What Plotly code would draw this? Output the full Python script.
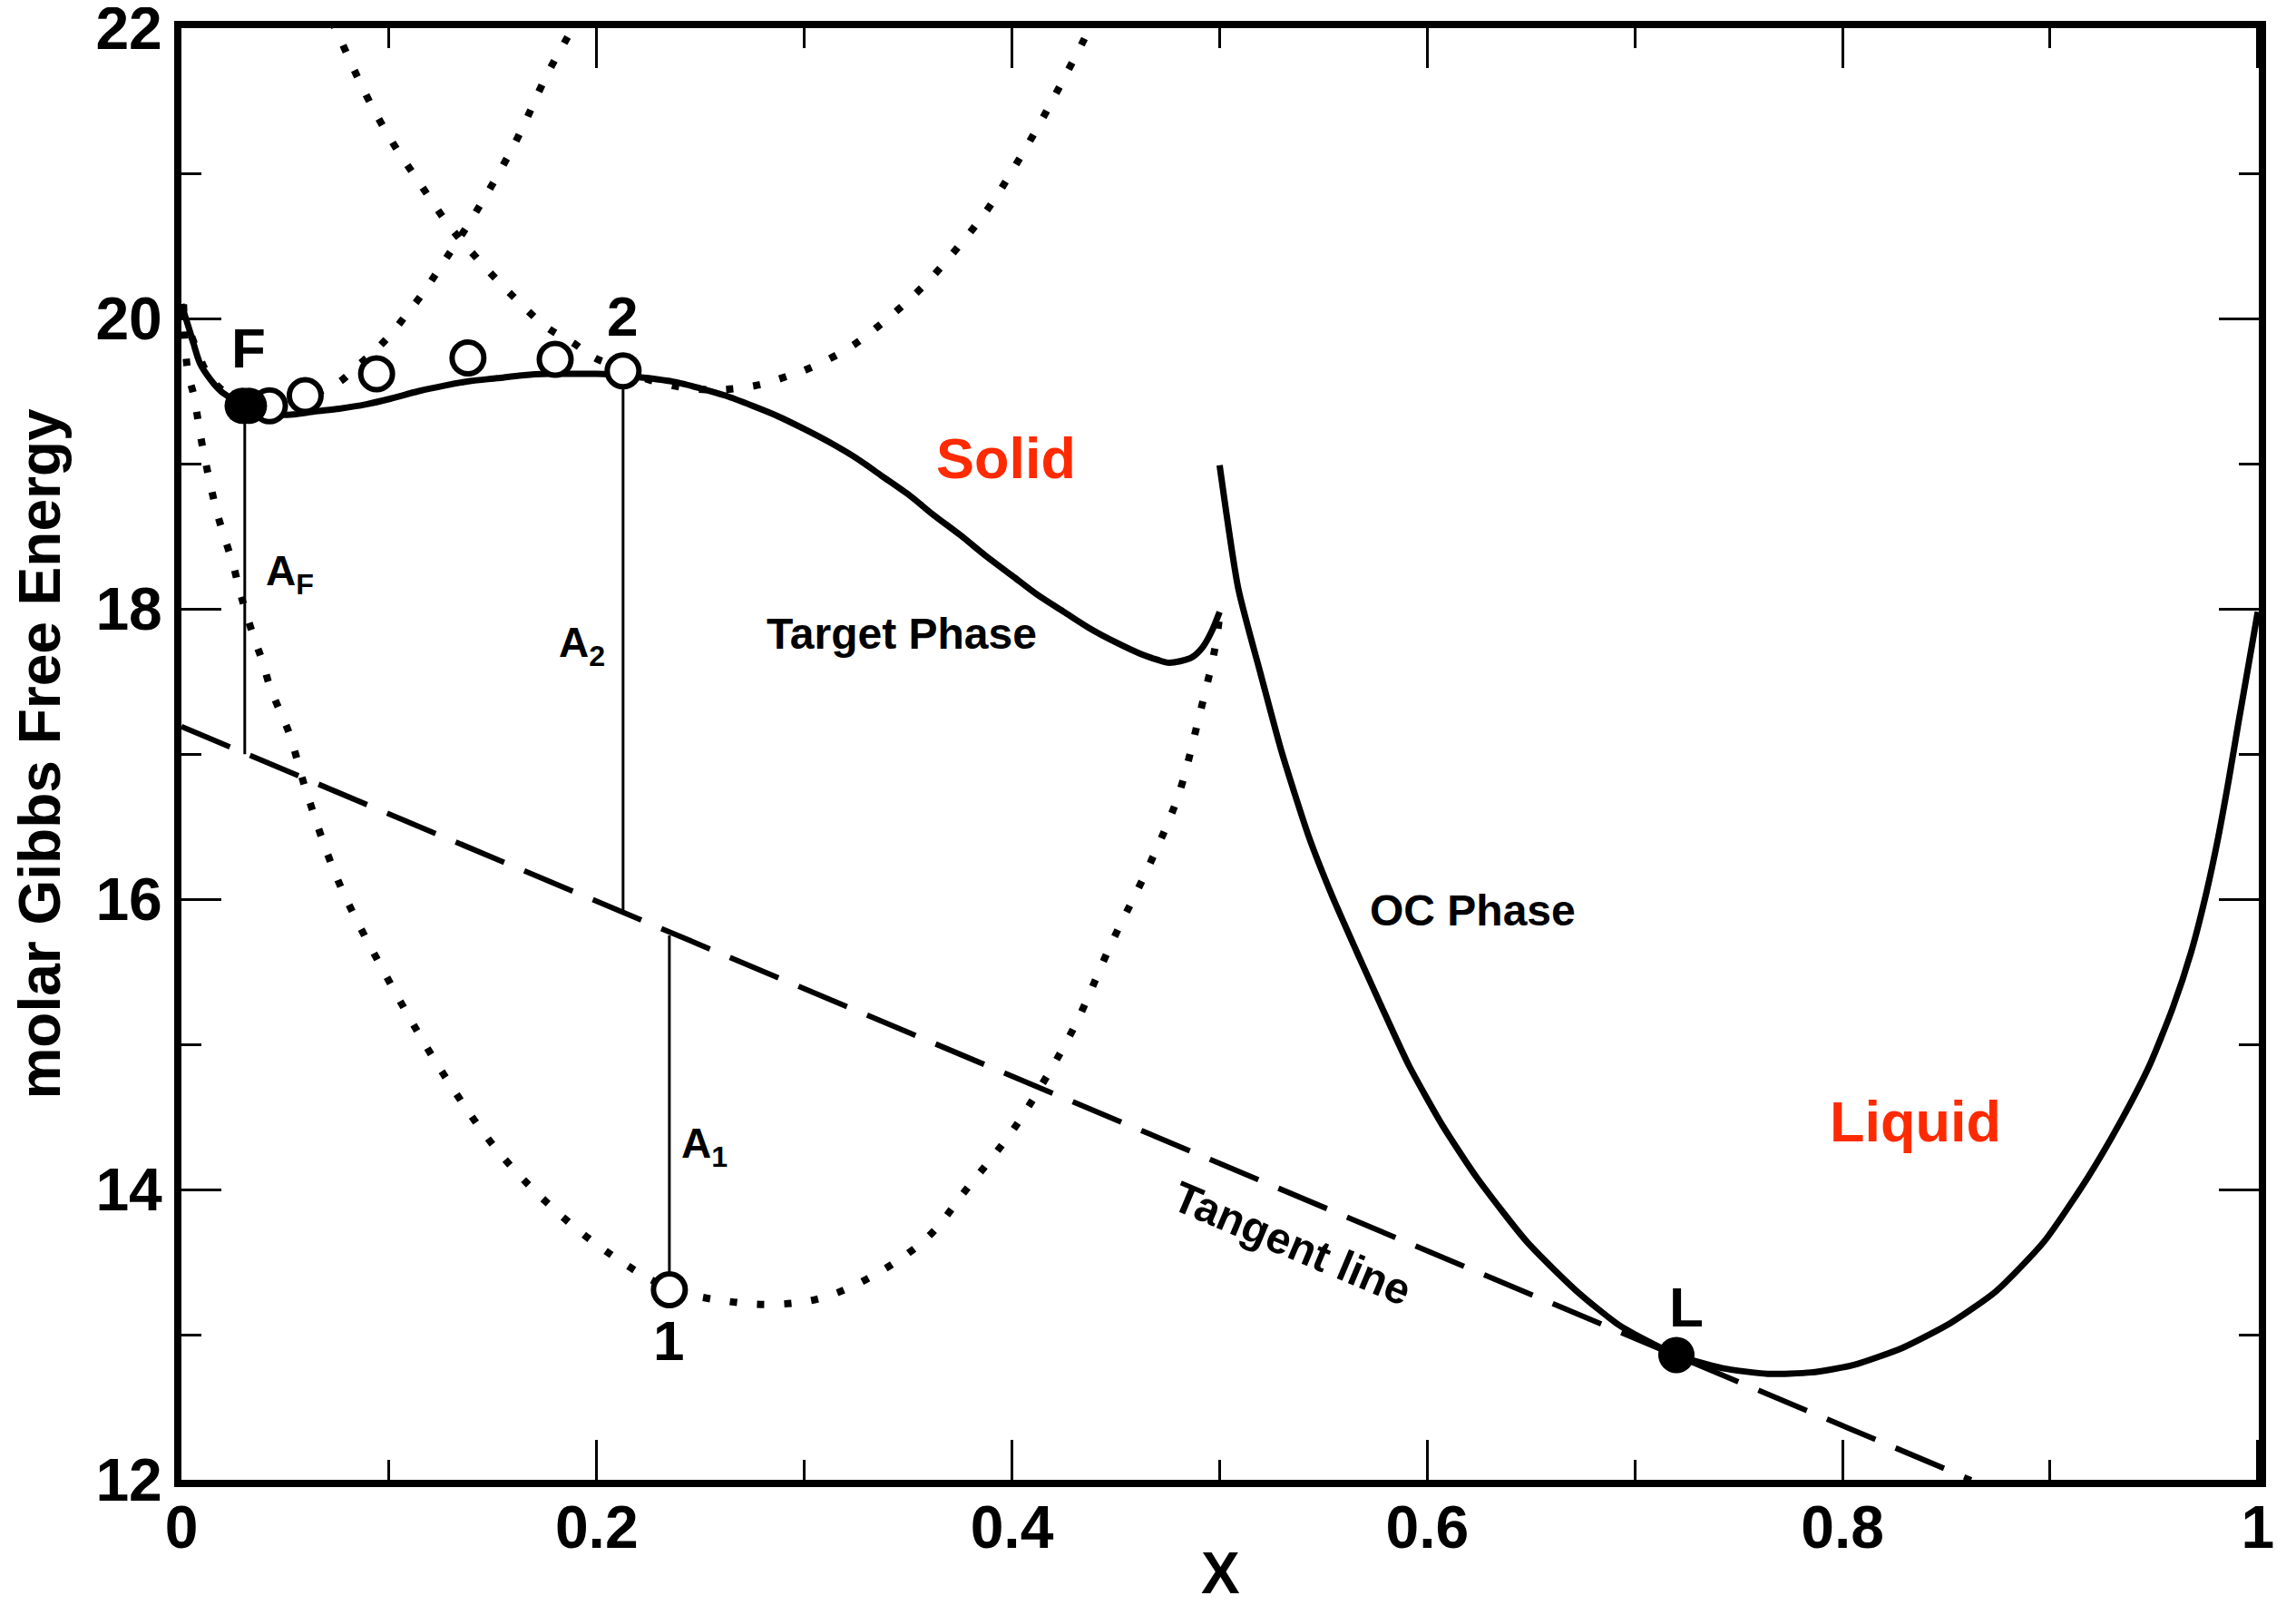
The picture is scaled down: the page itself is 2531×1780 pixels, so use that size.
import math
import plotly.graph_objects as go

# ---------------- data ----------------
# Target phase (solid, Solid side)
target_x = [0.0, 0.005, 0.009, 0.014, 0.019, 0.024, 0.029, 0.036, 0.044, 0.054, 0.064, 0.076,
            0.089, 0.101, 0.114, 0.127, 0.139, 0.152, 0.164, 0.177, 0.189, 0.2, 0.2125, 0.225,
            0.239, 0.25, 0.262, 0.275, 0.287, 0.3, 0.312, 0.325, 0.337, 0.35, 0.362, 0.375,
            0.387, 0.4, 0.412, 0.425, 0.437, 0.45, 0.462, 0.47, 0.475, 0.481, 0.487, 0.492,
            0.496, 0.5]
target_y = [20.10, 19.87, 19.69, 19.58, 19.50, 19.45, 19.41, 19.37, 19.34, 19.34, 19.36, 19.38,
            19.41, 19.45, 19.50, 19.54, 19.57, 19.59, 19.61, 19.62, 19.62, 19.62, 19.61, 19.59,
            19.56, 19.52, 19.47, 19.40, 19.33, 19.24, 19.15, 19.04, 18.92, 18.79, 18.65, 18.51,
            18.37, 18.23, 18.10, 17.98, 17.87, 17.77, 17.69, 17.65, 17.63, 17.64, 17.67, 17.74,
            17.84, 17.98]

# OC phase (solid, Liquid side)
oc_x = [0.5, 0.509, 0.52, 0.53, 0.543, 0.554, 0.566, 0.578, 0.591, 0.607, 0.624, 0.648,
        0.672, 0.693, 0.72, 0.742, 0.764, 0.785, 0.805, 0.829, 0.852, 0.874, 0.897, 0.918,
        0.934, 0.948, 0.959, 0.968, 0.975, 0.981, 0.986, 0.9905, 1.0]
oc_y = [18.99, 18.14, 17.54, 17.01, 16.43, 16.03, 15.64, 15.26, 14.86, 14.45, 14.08, 13.64,
        13.30, 13.06, 12.86, 12.77, 12.73, 12.74, 12.79, 12.91, 13.08, 13.30, 13.64, 14.08,
        14.47, 14.86, 15.25, 15.64, 16.03, 16.43, 16.82, 17.20, 17.98]

# dotted curve through point 1
dot1_x = [0.001, 0.003, 0.006, 0.008, 0.010, 0.0124, 0.015, 0.0178, 0.0215, 0.025, 0.028,
          0.031, 0.035, 0.039, 0.0425, 0.047, 0.052, 0.060, 0.076, 0.101, 0.126, 0.151,
          0.176, 0.204, 0.235, 0.263, 0.288, 0.31, 0.336, 0.36, 0.378, 0.4, 0.413, 0.43,
          0.448, 0.465, 0.48, 0.49, 0.4975, 0.5]
dot1_y = [20.10, 19.64, 19.47, 19.30, 19.13, 18.96, 18.79, 18.63, 18.46, 18.30, 18.13,
          17.98, 17.80, 17.64, 17.47, 17.31, 17.14, 16.75, 16.11, 15.41, 14.80, 14.29,
          13.91, 13.58, 13.32, 13.23, 13.21, 13.26, 13.43, 13.68, 14.00, 14.40, 14.69, 15.12,
          15.70, 16.20, 16.71, 17.25, 17.71, 17.95]

# dotted curve rising from F towards the top
dot2_x = [0.0, 0.0036, 0.008, 0.0131, 0.0211, 0.03, 0.04, 0.05, 0.06, 0.0757, 0.0844,
          0.0932, 0.1012, 0.109, 0.1165, 0.124, 0.1425, 0.161, 0.176, 0.1875, 0.19]
dot2_y = [20.05, 19.93, 19.76, 19.61, 19.49, 19.41, 19.39, 19.41, 19.46, 19.56, 19.67,
          19.78, 19.90, 20.04, 20.18, 20.34, 20.75, 21.22, 21.68, 21.98, 22.05]

# dotted curve descending to point 2 and rising again
dot3_x = [0.072, 0.074, 0.089, 0.101, 0.114, 0.129, 0.144, 0.16, 0.176, 0.189, 0.199, 0.212,
          0.225, 0.24, 0.256, 0.268, 0.28, 0.291, 0.301, 0.3217, 0.340, 0.3577, 0.3738,
          0.3886, 0.401, 0.4136, 0.4248, 0.436, 0.438]
dot3_y = [22.05, 22.0, 21.54, 21.23, 20.95, 20.64, 20.39, 20.15, 19.94, 19.83, 19.73, 19.66,
          19.58, 19.53, 19.51, 19.52, 19.55, 19.60, 19.65, 19.80, 20.0, 20.23, 20.49,
          20.76, 21.04, 21.35, 21.65, 21.96, 22.02]

# tangent line
tangent_x = [0.0, 0.862]
tangent_y = [17.19, 12.0]

# open circles (iteration points)
open_x = [0.0424, 0.0596, 0.094, 0.138, 0.180, 0.2127, 0.235]
open_y = [19.40, 19.47, 19.62, 19.73, 19.72, 19.64, 13.31]

# filled points F and L
filled_x = [0.0295, 0.0325, 0.720]
filled_y = [19.40, 19.40, 12.86]

# vertical driving-force segments
af_x = [0.0305, 0.0305]
af_y = [19.40, 17.00]
a2_x = [0.2127, 0.2127]
a2_y = [19.64, 15.92]
a1_x = [0.235, 0.235]
a1_y = [13.31, 15.75]

# text labels
label_text = ["F", "2", "1", "L", "A<sub>F</sub>", "A<sub>2</sub>", "A<sub>1</sub>",
              "Target Phase", "OC Phase"]
label_x = [0.0325, 0.2125, 0.2345, 0.725, 0.052, 0.193, 0.252, 0.347, 0.622]
label_y = [19.80, 20.02, 12.96, 13.19, 18.24, 17.75, 14.30, 17.83, 15.92]
label_size = [62, 62, 62, 62, 46, 46, 46, 48, 48]

red_text = ["Solid", "Liquid"]
red_x = [0.397, 0.835]
red_y = [19.04, 14.47]

tangent_label = "Tangent line"
tangent_label_x = 0.535
tangent_label_y = 13.63

x_title = "X"
y_title = "molar Gibbs Free Energy"

x_ticks = [0, 0.2, 0.4, 0.6, 0.8, 1.0]
x_ticktext = ["0", "0.2", "0.4", "0.6", "0.8", "1"]
y_ticks = [12, 14, 16, 18, 20, 22]
y_ticktext = ["12", "14", "16", "18", "20", "22"]

# ---------------- figure ----------------
# the page body adds an 8px margin, so the figure is 16px smaller than the window
W, H = 2515, 1764
ML, MR, MT, MB = 192, 33, 23, 141
FONT = "Liberation Sans, Arial, Helvetica, sans-serif"

fig = go.Figure()

dotted = dict(color="black", width=8, dash="8px,22px")
fig.add_trace(go.Scatter(x=dot1_x, y=dot1_y, mode="lines", line=dotted, line_shape="spline"))
fig.add_trace(go.Scatter(x=dot2_x, y=dot2_y, mode="lines", line=dotted, line_shape="spline"))
fig.add_trace(go.Scatter(x=dot3_x, y=dot3_y, mode="lines", line=dotted, line_shape="spline"))

fig.add_trace(go.Scatter(x=tangent_x, y=tangent_y, mode="lines",
                         line=dict(color="black", width=6, dash="58px,24px")))

thin = dict(color="black", width=3)
for xs, ys in [(af_x, af_y), (a2_x, a2_y), (a1_x, a1_y)]:
    fig.add_trace(go.Scatter(x=xs, y=ys, mode="lines", line=thin))

fig.add_trace(go.Scatter(x=target_x, y=target_y, mode="lines",
                         line=dict(color="black", width=7, shape="spline", smoothing=0.8)))
fig.add_trace(go.Scatter(x=oc_x, y=oc_y, mode="lines",
                         line=dict(color="black", width=7, shape="spline", smoothing=0.6)))

fig.add_trace(go.Scatter(x=open_x, y=open_y, mode="markers",
                         marker=dict(symbol="circle", size=35, color="white",
                                     line=dict(color="black", width=6))))
fig.add_trace(go.Scatter(x=filled_x, y=filled_y, mode="markers",
                         marker=dict(symbol="circle", size=40, color="black",
                                     line=dict(color="black", width=0))))

for t, x, y, s in zip(label_text, label_x, label_y, label_size):
    fig.add_annotation(x=x, y=y, text=t, showarrow=False,
                       font=dict(family=FONT, size=s, color="black", weight="bold"))
for t, x, y in zip(red_text, red_x, red_y):
    fig.add_annotation(x=x, y=y, text=t, showarrow=False,
                       font=dict(family=FONT, size=63, color="#ff2a00", weight="bold"))

plot_w = W - ML - MR
plot_h = H - MT - MB
slope_px = (tangent_y[0] - tangent_y[1]) / (tangent_x[1] - tangent_x[0]) * (plot_h / 10.0) / plot_w
angle = math.degrees(math.atan(slope_px))
fig.add_annotation(x=tangent_label_x, y=tangent_label_y, text=tangent_label, showarrow=False,
                   textangle=angle,
                   font=dict(family=FONT, size=48, color="black", weight="bold"))

# x-axis title, placed just under the tick labels
fig.add_annotation(x=0.5, y=-(1726 - (H - MB)) / plot_h, xref="paper", yref="paper",
                   text=x_title, showarrow=False, yanchor="middle",
                   font=dict(family=FONT, size=64, color="black", weight="bold"))

axis_common = dict(
    showgrid=False, zeroline=False, showline=True, linecolor="black", linewidth=8,
    mirror="allticks", ticks="inside", ticklen=44, tickwidth=3, tickcolor="black",
    ticklabeloverflow="allow", automargin=False,
    tickfont=dict(family=FONT, size=66, color="black", weight="bold"),
)

fig.update_xaxes(range=[0, 1.0005], tickvals=x_ticks, ticktext=x_ticktext,
                 ticklabelstandoff=-12,
                 minor=dict(dtick=0.1, ticks="inside", ticklen=22, tickwidth=3, tickcolor="black"),
                 **axis_common)
fig.update_yaxes(range=[12, 22.002], tickvals=y_ticks, ticktext=y_ticktext,
                 minor=dict(dtick=1, ticks="inside", ticklen=22, tickwidth=3, tickcolor="black"),
                 title=dict(text=y_title, standoff=24,
                            font=dict(family=FONT, size=64, color="black", weight="bold")),
                 **axis_common)

fig.update_layout(width=W, height=H, margin=dict(l=ML, r=MR, t=MT, b=MB, pad=0, autoexpand=False),
                  showlegend=False, plot_bgcolor="white", paper_bgcolor="white",
                  font=dict(family=FONT, color="black"))

fig.write_html("out.html")
